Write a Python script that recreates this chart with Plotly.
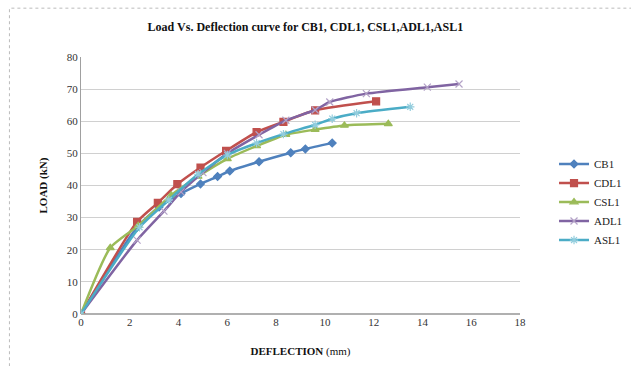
import plotly.graph_objects as go

# Data
cb1_x = [0, 2.3, 3.2, 4.1, 4.9, 5.6, 6.1, 7.3, 8.6, 9.2, 10.3]
cb1_y = [0, 27.0, 33.3, 37.5, 40.5, 42.8, 44.5, 47.4, 50.2, 51.4, 53.2]

cdl1_x = [0, 2.3, 3.15, 3.95, 4.9, 5.95, 7.2, 8.3, 9.6, 12.1]
cdl1_y = [0, 28.7, 34.6, 40.4, 45.6, 50.8, 56.6, 59.8, 63.4, 66.2]

csl1_x = [0, 1.2, 2.35, 3.7, 4.8, 6.0, 7.2, 8.4, 9.6, 10.8, 12.6]
csl1_y = [0, 20.6, 27.5, 37.0, 42.8, 48.3, 52.3, 55.8, 57.4, 58.7, 59.2]

adl1_x = [0, 2.3, 3.4, 4.1, 5.0, 6.0, 7.3, 8.4, 9.6, 10.2, 11.7, 14.2, 15.5]
adl1_y = [0, 23.0, 32.0, 38.0, 44.0, 50.0, 55.8, 60.3, 63.5, 66.0, 68.6, 70.6, 71.6]

asl1_x = [0, 2.4, 3.6, 4.8, 6.0, 7.2, 8.3, 9.6, 10.3, 11.3, 13.5]
asl1_y = [0, 27.0, 35.5, 43.5, 49.5, 53.2, 56.0, 58.9, 60.8, 62.5, 64.5]

series = [
    ("CB1", cb1_x, cb1_y, "#4F81BD", "diamond", 6),
    ("CDL1", cdl1_x, cdl1_y, "#C0504D", "square", 7),
    ("CSL1", csl1_x, csl1_y, "#9BBB59", "triangle-up", 7),
    ("ADL1", adl1_x, adl1_y, "#8064A2", "x-thin-open", 7),
    ("ASL1", asl1_x, asl1_y, "#4BACC6", "asterisk-open", 7),
]

x_ticks = list(range(0, 19, 2))
y_ticks = list(range(0, 81, 10))

serif = "Liberation Serif"

fig = go.Figure()
for name, xs, ys, col, sym, sz in series:
    mcol = "#B3A2C7" if name == "ADL1" else ("#93CDDD" if name == "ASL1" else col)
    fig.add_trace(go.Scatter(
        x=xs, y=ys, name=name, mode="lines+markers",
        line=dict(color=col, width=2.5, shape="spline", smoothing=0.6),
        marker=dict(symbol=sym, size=sz, color=mcol, line=dict(color=mcol, width=1.2)),
    ))

fig.update_layout(
    width=631, height=366,
    margin=dict(l=81, r=111, t=57, b=52, autoexpand=False),
    paper_bgcolor="white", plot_bgcolor="white",
    font=dict(family=serif, size=11, color="#333333"),
    title=dict(text="<b>Load Vs. Deflection curve for CB1, CDL1, CSL1,ADL1,ASL1</b>",
               x=0.484, xanchor="center", y=0.928, yanchor="middle",
               font=dict(family=serif, size=12, color="#111111")),
    showlegend=True,
    legend=dict(xref="container", yref="container", x=0.878, y=0.448,
                xanchor="left", yanchor="middle",
                font=dict(family=serif, size=11, color="#222222"),
                tracegroupgap=2, itemwidth=30, bgcolor="rgba(0,0,0,0)"),
    xaxis=dict(range=[0, 18], tickvals=x_ticks, showgrid=False, zeroline=False,
               showline=False, ticks="", tickfont=dict(family=serif, size=11, color="#333333"),
               title=dict(text="<b>DEFLECTION</b> (mm)", font=dict(family=serif, size=11, color="#111111"), standoff=20)),
    yaxis=dict(range=[0, 80], tickvals=y_ticks, showgrid=True, gridcolor="#D0D0D0", gridwidth=1,
               zeroline=True, zerolinecolor="#B0B0B0", showline=True, linecolor="#A0A0A0",
               ticks="", tickfont=dict(family=serif, size=11, color="#333333"),
               title=dict(text="<b>LOAD (kN)</b>", font=dict(family=serif, size=11, color="#111111"), standoff=16)),
    shapes=[dict(type="rect", xref="paper", yref="paper",
                 x0=-0.163, x1=1.4, y0=-0.4, y1=1.19,
                 line=dict(color="#BBBBBB", width=1, dash="dot"), layer="below")],
)

fig.write_html("out.html")
